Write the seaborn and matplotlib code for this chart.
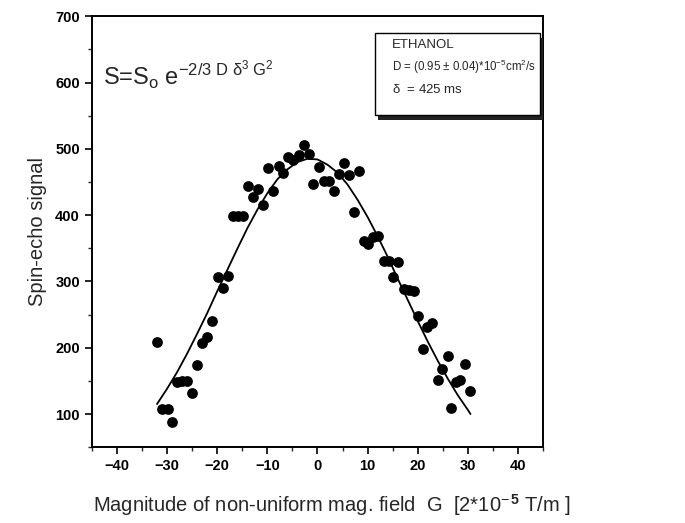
"""
Spin-echo signal vs. magnitude of the non-uniform field (ethanol)
"""

import matplotlib
matplotlib.use('Agg')
import matplotlib.pyplot as plt
import seaborn as sns
from matplotlib.patches import Rectangle
from matplotlib.ticker import MultipleLocator

field_g = [-32.0, -31.1, -29.9, -29.0, -28.0, -27.1, -26.1, -25.0, -24.0, -23.0,
           -22.0, -21.0, -19.9, -18.9, -17.9, -16.8, -15.9, -14.9, -13.9, -12.9,
           -11.9, -10.9, -9.8, -8.9, -7.7, -6.8, -5.8, -4.8, -3.7, -2.7,
           -1.7, -0.8, 0.3, 1.3, 2.3, 3.3, 4.3, 5.2, 6.2, 7.2,
           8.2, 9.2, 10.1, 11.1, 12.1, 13.2, 14.2, 15.1, 16.1, 17.3,
           18.3, 19.2, 20.0, 21.0, 21.9, 22.9, 24.0, 24.9, 26.0, 26.7,
           27.6, 28.5, 29.5, 30.5]
echo_signal = [209, 107, 107, 88, 149, 150, 150, 132, 174, 207,
               216, 240, 307, 290, 308, 399, 398, 399, 444, 428,
               440, 415, 471, 436, 474, 463, 488, 483, 491, 506,
               492, 447, 473, 451, 451, 437, 462, 479, 461, 404,
               466, 361, 356, 367, 369, 331, 331, 307, 329, 288,
               287, 286, 248, 198, 231, 237, 152, 168, 187, 109,
               148, 152, 176, 135]

# fitted curve
fit_g = [-32, -30, -28, -26, -24, -22, -20, -18, -16, -14, -12, -10, -8, -6, -4, -2,
         0, 2, 4, 6, 8, 10, 12, 14, 16, 18, 20, 22, 24, 26, 28, 30, 30.5]
fit_signal = [115, 138, 163, 191, 221, 252, 285, 317, 349, 380, 408, 433, 454, 469, 480, 485,
              484, 476, 464, 446, 423, 397, 368, 337, 304, 272, 240, 209, 180, 153, 128, 106, 100]

sns.set_style('ticks')
plt.rcParams['font.family'] = ['Liberation Sans', 'DejaVu Sans']
plt.rcParams['mathtext.fontset'] = 'custom'
plt.rcParams['mathtext.rm'] = 'Liberation Sans'
plt.rcParams['mathtext.it'] = 'Liberation Sans:italic'
plt.rcParams['mathtext.bf'] = 'Liberation Sans:bold'
plt.rcParams['mathtext.default'] = 'regular'

fig = plt.figure(figsize=(6.85, 5.23), dpi=100)
ax = fig.add_axes([0.134, 0.145, 0.659, 0.824])

sns.lineplot(x=fit_g, y=fit_signal, color='black', linewidth=1.3,
             sort=False, estimator=None, ax=ax)
sns.scatterplot(x=field_g, y=echo_signal, color='black', s=60,
                edgecolor='black', linewidth=0, ax=ax, zorder=3)

ax.set_xlim(-45, 45)
ax.set_ylim(50, 700)
ax.xaxis.set_major_locator(MultipleLocator(10))
ax.xaxis.set_minor_locator(MultipleLocator(5))
ax.yaxis.set_major_locator(MultipleLocator(100))
ax.yaxis.set_minor_locator(MultipleLocator(50))
ax.set_yticks(range(100, 701, 100))
ax.tick_params(which='major', direction='out', length=5, width=1.2,
               labelsize=10.5, colors='black')
ax.tick_params(which='minor', direction='out', length=3, width=1.0)
for lab in ax.get_xticklabels() + ax.get_yticklabels():
    lab.set_fontweight('bold')
for sp in ax.spines.values():
    sp.set_visible(True)
    sp.set_linewidth(1.4)
    sp.set_color('black')

ax.set_xlabel(r'Magnitude of non-uniform mag. field  G  [2*10$^{-\,\mathbf{5}}$ T/m ]',
              fontsize=14.5)
ax.xaxis.set_label_coords(0.532, -0.105)
ax.set_ylabel('Spin-echo signal', fontsize=14.5, labelpad=6)

# formula in the upper left
ax.text(0.025, 0.84, r'S=S$_\mathrm{o}$ e$^{-2/3\ D\ \delta^3\ G^2}$',
        transform=ax.transAxes, fontsize=17, ha='left', va='baseline')

# info box with shadow
bx, by, bw, bh = 0.627, 0.770, 0.366, 0.191
ax.add_patch(Rectangle((bx + 0.008, by - 0.011), bw, bh, transform=ax.transAxes,
                       facecolor='#222222', edgecolor='none', zorder=4))
ax.add_patch(Rectangle((bx, by), bw, bh, transform=ax.transAxes,
                       facecolor='white', edgecolor='black', linewidth=1.0, zorder=5))
ax.text(0.665, 0.933, 'ETHANOL', transform=ax.transAxes, fontsize=9.5,
        va='center', zorder=6)
ax.text(0.665, 0.882, 'D = (0.95 ± 0.04)*10$^{-5}$cm$^2$/s', transform=ax.transAxes,
        fontsize=8.3, va='center', zorder=6)
ax.text(0.665, 0.830, r'$\delta$  = 425 ms', transform=ax.transAxes, fontsize=9.5,
        va='center', zorder=6)

plt.savefig('out.png', dpi=100, facecolor='white')
